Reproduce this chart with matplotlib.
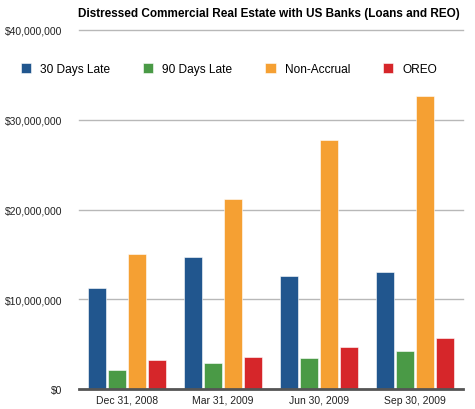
import numpy as np
import matplotlib.pyplot as plt
from matplotlib.ticker import FuncFormatter

plt.rcParams['font.family'] = ['Liberation Sans', 'DejaVu Sans']

quarters = ["Dec 31, 2008", "Mar 31, 2009", "Jun 30, 2009", "Sep 30, 2009"]
series = ["30 Days Late", "90 Days Late", "Non-Accrual", "OREO"]
late_30 = [11.3e6, 14.7e6, 12.6e6, 13.1e6]
late_90 = [2.15e6, 2.95e6, 3.5e6, 4.3e6]
non_accrual = [15.1e6, 21.2e6, 27.7e6, 32.6e6]
oreo = [3.25e6, 3.6e6, 4.75e6, 5.75e6]
colors = ["#21568e", "#4a9a46", "#f5a033", "#d6262a"]

fig = plt.figure(figsize=(4.75, 4.1), dpi=100)
ax = fig.add_axes([0.1663, 0.048, 0.8084, 0.8764])

x = np.arange(len(quarters))
slot = 0.2083
for i, (vals, c) in enumerate(zip([late_30, late_90, non_accrual, oreo], colors)):
    ax.bar(x + (i - 1.5) * slot, vals, width=slot * 0.92, color=c,
           edgecolor="white", linewidth=0.4, label=series[i], zorder=3)

ax.set_xlim(-0.5, 3.5)
ax.set_ylim(0, 40e6)
ax.set_yticks([0, 10e6, 20e6, 30e6, 40e6])
ax.yaxis.set_major_formatter(FuncFormatter(lambda v, p: "${:,.0f}".format(v)))
ax.set_xticks(x)
ax.set_xticklabels(quarters)
ax.tick_params(length=0, labelsize=7.5, colors="#222222")
ax.tick_params(axis="y", pad=12)
ax.tick_params(axis="x", pad=4)
ax.grid(axis="y", color="#b8b8b8", linewidth=1.0, zorder=0)
for s in ["top", "left", "right"]:
    ax.spines[s].set_visible(False)
ax.spines["bottom"].set_color("#555555")
ax.spines["bottom"].set_linewidth(2)
ax.spines["bottom"].set_zorder(4)
for gl in ax.get_ygridlines():
    gl.set_clip_on(False)

fig.text(0.567, 0.966, "Distressed Commercial Real Estate with US Banks (Loans and REO)",
         ha="center", va="center", fontsize=8.5, fontweight="bold")

fig.legend(loc="center", bbox_to_anchor=(0.482, 1 - 70 / 410), ncol=4, frameon=False,
           fontsize=8.6, handlelength=0.85, handleheight=0.85, handletextpad=0.76,
           columnspacing=2.75, borderpad=0, borderaxespad=0)

fig.savefig("out.png", dpi=100)
